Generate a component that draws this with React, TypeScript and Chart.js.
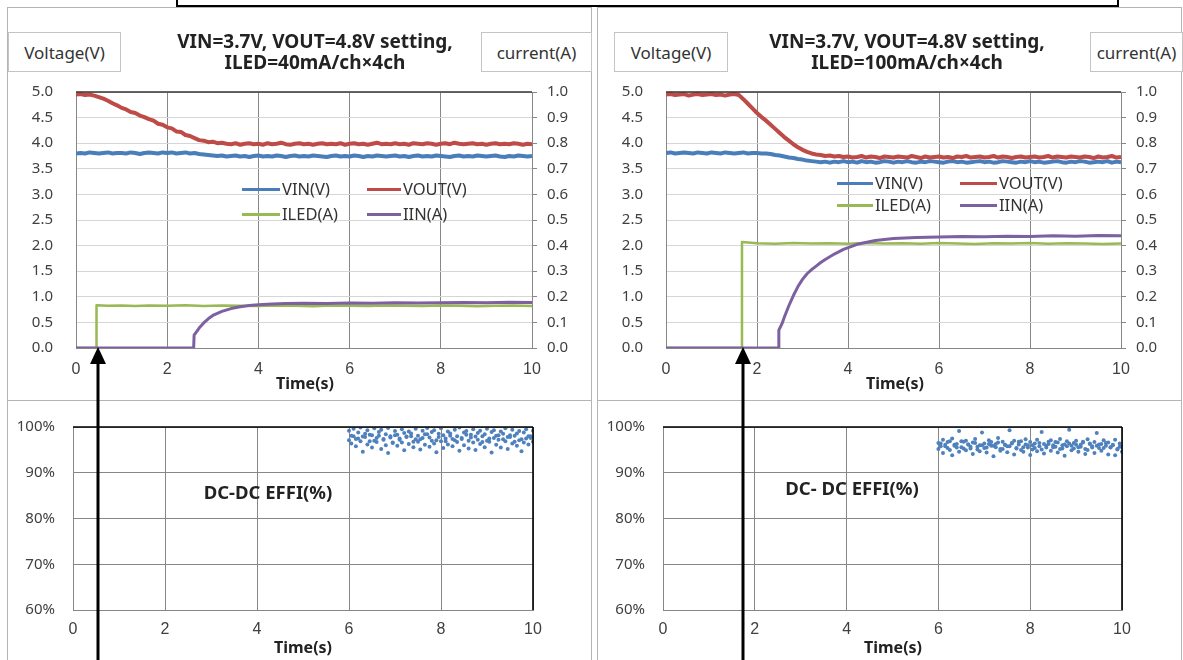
import React, { useEffect, useRef } from "react";
import { Chart, registerables } from "chart.js";
Chart.register(...registerables);

// ---------- DATA ----------
const TIME = [
  0, 0.1, 0.2, 0.3, 0.4, 0.5, 0.6, 0.7, 0.8, 0.9,
  1, 1.1, 1.2, 1.3, 1.4, 1.5, 1.6, 1.7, 1.8, 1.9,
  2, 2.1, 2.2, 2.3, 2.4, 2.5, 2.6, 2.7, 2.8, 2.9,
  3, 3.1, 3.2, 3.3, 3.4, 3.5, 3.6, 3.7, 3.8, 3.9,
  4, 4.1, 4.2, 4.3, 4.4, 4.5, 4.6, 4.7, 4.8, 4.9,
  5, 5.1, 5.2, 5.3, 5.4, 5.5, 5.6, 5.7, 5.8, 5.9,
  6, 6.1, 6.2, 6.3, 6.4, 6.5, 6.6, 6.7, 6.8, 6.9,
  7, 7.1, 7.2, 7.3, 7.4, 7.5, 7.6, 7.7, 7.8, 7.9,
  8, 8.1, 8.2, 8.3, 8.4, 8.5, 8.6, 8.7, 8.8, 8.9,
  9, 9.1, 9.2, 9.3, 9.4, 9.5, 9.6, 9.7, 9.8, 9.9,
  10,
];

// Left chart (ILED = 40mA/ch x 4ch)
const VOUT_L = [
  4.95, 4.96, 4.94, 4.95, 4.93, 4.90, 4.87, 4.83, 4.78, 4.74,
  4.69, 4.66, 4.61, 4.59, 4.54, 4.51, 4.47, 4.44, 4.38, 4.36,
  4.31, 4.29, 4.23, 4.22, 4.16, 4.14, 4.10, 4.06, 4.05, 4.02,
  4.03, 4.00, 4.01, 3.99, 3.98, 4.00, 3.97, 3.99, 4.00, 3.98,
  3.99, 3.97, 4.00, 3.98, 3.99, 4.01, 3.98, 3.97, 3.99, 4.00,
  3.98, 3.99, 3.97, 3.99, 4.00, 3.98, 3.99, 3.98, 4.00, 3.97,
  3.99, 4.00, 3.98, 3.99, 3.97, 3.99, 4.01, 3.98, 3.99, 3.98,
  4.00, 3.98, 3.99, 3.97, 4.00, 3.99, 3.98, 4.00, 3.99, 3.97,
  3.99, 4.00, 3.98, 4.01, 3.99, 3.98, 3.99, 4.00, 3.98, 3.99,
  3.97, 3.99, 4.00, 3.98, 3.99, 3.98, 4.00, 3.99, 3.97, 3.99,
  3.98,
];
const VIN_L = [
  3.80, 3.81, 3.80, 3.82, 3.81, 3.80, 3.81, 3.82, 3.80, 3.81,
  3.81, 3.80, 3.82, 3.81, 3.79, 3.81, 3.82, 3.81, 3.80, 3.82,
  3.81, 3.82, 3.80, 3.81, 3.82, 3.80, 3.81, 3.79, 3.78, 3.77,
  3.76, 3.75, 3.76, 3.74, 3.75, 3.76, 3.74, 3.75, 3.73, 3.75,
  3.76, 3.74, 3.75, 3.74, 3.76, 3.75, 3.73, 3.75, 3.76, 3.74,
  3.75, 3.74, 3.76, 3.75, 3.74, 3.73, 3.75, 3.76, 3.74, 3.75,
  3.74, 3.76, 3.75, 3.73, 3.75, 3.74, 3.76, 3.75, 3.74, 3.75,
  3.76, 3.74, 3.75, 3.73, 3.75, 3.76, 3.74, 3.75, 3.74, 3.76,
  3.75, 3.74, 3.73, 3.75, 3.76, 3.74, 3.75, 3.74, 3.76, 3.75,
  3.74, 3.75, 3.76, 3.74, 3.73, 3.75, 3.74, 3.76, 3.75, 3.74,
  3.75,
];
const ILED_L_T = [0, 0.44, 0.45, 0.7, 1, 1.3, 1.6, 2, 2.4, 2.8, 3.2, 3.6, 4, 4.4, 4.8, 5.2, 5.6, 6, 6.4, 6.8, 7.2, 7.6, 8, 8.4, 8.8, 9.2, 9.6, 10];
const ILED_L = [0, 0, 0.167, 0.165, 0.166, 0.164, 0.166, 0.165, 0.167, 0.164, 0.166, 0.165, 0.164, 0.166, 0.165, 0.163, 0.166, 0.165, 0.164, 0.166, 0.165, 0.164, 0.166, 0.165, 0.163, 0.165, 0.166, 0.164];
const IIN_L_T = [0, 1, 2, 2.58, 2.59, 2.65, 2.7, 2.8, 2.9, 3, 3.2, 3.4, 3.6, 3.8, 4, 4.3, 4.6, 5, 5.5, 6, 6.5, 7, 7.5, 8, 8.5, 9, 9.5, 10];
const IIN_L = [0, 0, 0, 0, 0.05, 0.065, 0.078, 0.098, 0.114, 0.127, 0.143, 0.154, 0.161, 0.166, 0.169, 0.172, 0.174, 0.175, 0.174, 0.176, 0.175, 0.177, 0.176, 0.177, 0.178, 0.177, 0.179, 0.178];

// Right chart (ILED = 100mA/ch x 4ch)
const VOUT_R = [
  4.95, 4.96, 4.94, 4.95, 4.96, 4.93, 4.95, 4.96, 4.94, 4.95,
  4.96, 4.94, 4.95, 4.93, 4.95, 4.96, 4.94, 4.86, 4.77, 4.68,
  4.59, 4.51, 4.44, 4.36, 4.28, 4.20, 4.12, 4.05, 3.98, 3.92,
  3.87, 3.83, 3.80, 3.78, 3.77, 3.75, 3.76, 3.74, 3.75, 3.73,
  3.74, 3.72, 3.73, 3.75, 3.72, 3.74, 3.73, 3.71, 3.74, 3.73,
  3.72, 3.74, 3.73, 3.72, 3.75, 3.73, 3.71, 3.74, 3.72, 3.73,
  3.74, 3.72, 3.73, 3.71, 3.74, 3.73, 3.75, 3.72, 3.73, 3.74,
  3.72, 3.73, 3.75, 3.72, 3.74, 3.73, 3.71, 3.73, 3.74, 3.72,
  3.73, 3.74, 3.72, 3.73, 3.75, 3.72, 3.74, 3.73, 3.72, 3.74,
  3.73, 3.72, 3.74, 3.73, 3.71, 3.74, 3.72, 3.73, 3.75, 3.72,
  3.73,
];
const VIN_R = [
  3.81, 3.82, 3.80, 3.81, 3.82, 3.81, 3.80, 3.82, 3.81, 3.80,
  3.82, 3.81, 3.80, 3.82, 3.81, 3.80, 3.81, 3.82, 3.80, 3.81,
  3.81, 3.80, 3.80, 3.79, 3.77, 3.76, 3.74, 3.72, 3.71, 3.69,
  3.68, 3.66, 3.65, 3.64, 3.63, 3.64, 3.62, 3.64, 3.63, 3.65,
  3.63, 3.64, 3.62, 3.65, 3.63, 3.64, 3.62, 3.63, 3.65, 3.64,
  3.62, 3.64, 3.63, 3.65, 3.63, 3.62, 3.64, 3.63, 3.65, 3.64,
  3.63, 3.62, 3.64, 3.65, 3.63, 3.64, 3.62, 3.63, 3.64, 3.65,
  3.63, 3.64, 3.62, 3.63, 3.65, 3.64, 3.63, 3.62, 3.64, 3.63,
  3.65, 3.63, 3.64, 3.62, 3.63, 3.64, 3.65, 3.63, 3.62, 3.64,
  3.63, 3.65, 3.64, 3.62, 3.63, 3.64, 3.63, 3.65, 3.62, 3.64,
  3.63,
];
const ILED_R_T = [0, 1.66, 1.67, 2, 2.4, 2.8, 3.2, 3.6, 4, 4.4, 4.8, 5.2, 5.6, 6, 6.4, 6.8, 7.2, 7.6, 8, 8.4, 8.8, 9.2, 9.6, 10];
const ILED_R = [0, 0, 0.414, 0.409, 0.407, 0.41, 0.408, 0.409, 0.407, 0.41, 0.408, 0.409, 0.407, 0.41, 0.408, 0.406, 0.409, 0.408, 0.41, 0.407, 0.409, 0.408, 0.406, 0.408];
const IIN_R_T = [0, 1, 2, 2.47, 2.48, 2.55, 2.6, 2.7, 2.8, 2.9, 3, 3.1, 3.2, 3.3, 3.4, 3.5, 3.7, 3.9, 4.2, 4.6, 5, 5.5, 6, 6.5, 7, 7.5, 8, 8.5, 9, 9.5, 10];
const IIN_R = [0, 0, 0, 0, 0.07, 0.095, 0.12, 0.165, 0.205, 0.24, 0.268, 0.29, 0.306, 0.32, 0.334, 0.346, 0.367, 0.385, 0.405, 0.42, 0.428, 0.432, 0.434, 0.436, 0.435, 0.437, 0.436, 0.438, 0.437, 0.439, 0.438];

// Efficiency scatter (time 6..10 s)
const EFF_T = [
  6, 6.05, 6.1, 6.15, 6.2, 6.25, 6.3, 6.35, 6.4, 6.45,
  6.5, 6.55, 6.6, 6.65, 6.7, 6.75, 6.8, 6.85, 6.9, 6.95,
  7, 7.05, 7.1, 7.15, 7.2, 7.25, 7.3, 7.35, 7.4, 7.45,
  7.5, 7.55, 7.6, 7.65, 7.7, 7.75, 7.8, 7.85, 7.9, 7.95,
  8, 8.05, 8.1, 8.15, 8.2, 8.25, 8.3, 8.35, 8.4, 8.45,
  8.5, 8.55, 8.6, 8.65, 8.7, 8.75, 8.8, 8.85, 8.9, 8.95,
  9, 9.05, 9.1, 9.15, 9.2, 9.25, 9.3, 9.35, 9.4, 9.45,
  9.5, 9.55, 9.6, 9.65, 9.7, 9.75, 9.8, 9.85, 9.9, 9.95,
  10,
];
const EFF_L_A = [
  99.2, 98.1, 99.6, 97.4, 98.8, 99.9, 97.9, 98.5, 99.3, 96.9,
  98.2, 99.7, 97.6, 98.9, 99.4, 97.2, 98.4, 99.8, 98.0, 96.6,
  99.1, 98.3, 97.5, 99.5, 98.7, 97.8, 99.0, 98.6, 96.8, 99.6,
  98.1, 97.3, 99.2, 98.4, 99.8, 97.7, 98.9, 99.3, 97.1, 98.5,
  99.7, 98.2, 96.9, 99.0, 98.6, 97.4, 99.4, 98.0, 99.9, 97.6,
  98.8, 99.1, 97.0, 98.3, 99.5, 97.9, 98.7, 99.2, 96.7, 98.4,
  99.6, 97.5, 98.9, 99.3, 98.1, 97.2, 99.0, 98.5, 99.7, 97.8,
  98.2, 99.4, 96.8, 98.6, 99.1, 97.3, 98.8, 99.5, 98.0, 97.6,
  99.2,
];
const EFF_L_B = [
  97.1, 96.4, 98.0, 95.8, 97.5, 96.9, 94.6, 97.8, 96.2, 98.3,
  95.5, 97.0, 96.7, 98.1, 95.2, 97.4, 96.0, 94.3, 97.7, 96.5,
  98.2, 95.9, 97.2, 96.6, 94.9, 97.9, 96.3, 98.0, 95.6, 97.3,
  96.8, 95.1, 97.6, 96.1, 98.4, 95.7, 97.0, 96.4, 94.5, 97.8,
  96.9, 95.4, 97.5, 96.2, 98.1, 95.8, 97.1, 96.7, 94.8, 97.4,
  96.0, 98.3, 95.3, 97.7, 96.6, 95.0, 97.2, 96.3, 98.0, 95.6,
  97.0, 96.8, 94.4, 97.6, 96.1, 98.2, 95.5, 97.3, 96.9, 95.2,
  97.8, 96.4, 98.1, 95.9, 97.1, 94.7, 96.6, 97.5, 96.2, 98.0,
  96.8,
];
const EFF_R_A = [
  96.5, 95.8, 97.2, 96.1, 95.4, 96.9, 97.5, 95.9, 96.3, 99.1,
  95.6, 96.8, 97.0, 96.2, 95.3, 96.6, 97.4, 95.7, 96.0, 98.8,
  96.4, 95.5, 97.1, 96.7, 95.9, 96.3, 97.6, 95.2, 96.8, 96.1,
  95.8, 99.3, 96.5, 97.0, 95.4, 96.2, 96.9, 95.6, 97.3, 96.0,
  96.7, 95.1, 96.4, 97.2, 95.8, 98.9, 96.3, 95.5, 96.8, 97.1,
  96.0, 95.7, 96.6, 97.4, 95.3, 96.2, 96.9, 99.4, 95.9, 96.5,
  97.0, 95.6, 96.1, 96.8, 95.2, 97.3, 96.4, 95.8, 96.7, 98.7,
  95.4, 96.3, 97.1, 95.9, 96.6, 95.5, 96.0, 97.2, 95.1, 96.4,
  95.7,
];
const EFF_R_B = [
  95.2, 96.4, 94.3, 95.8, 96.7, 95.0, 93.8, 96.1, 95.5, 94.6,
  96.9, 95.3, 94.9, 96.2, 95.7, 94.1, 96.5, 95.1, 94.7, 96.0,
  95.4, 94.4, 96.3, 95.9, 93.6, 95.6, 96.6, 94.8, 95.2, 96.1,
  94.5, 95.8, 96.4, 94.0, 95.3, 96.8, 95.0, 94.6, 96.2, 95.5,
  93.9, 96.0, 95.4, 94.7, 96.5, 95.1, 94.2, 95.9, 96.3, 94.8,
  95.6, 96.7, 94.4, 95.2, 96.0, 93.7, 95.8, 96.4, 94.9, 95.3,
  96.1, 94.6, 95.7, 96.6, 94.1, 95.0, 96.3, 95.5, 94.3, 95.9,
  96.2, 94.8, 95.4, 96.5, 94.0, 95.6, 96.1, 93.8, 95.2, 95.7,
  94.6,
];

// Tick labels
const X_TICKS = [0, 2, 4, 6, 8, 10];
const V_TICKS = [0, 0.5, 1, 1.5, 2, 2.5, 3, 3.5, 4, 4.5, 5];
const A_TICKS = [0, 0.1, 0.2, 0.3, 0.4, 0.5, 0.6, 0.7, 0.8, 0.9, 1];
const EFF_TICKS = [60, 70, 80, 90, 100];

const SERIES_NAMES = ["VIN(V)", "VOUT(V)", "ILED(A)", "IIN(A)"];
const TITLE_L = ["VIN=3.7V, VOUT=4.8V setting,", "ILED=40mA/ch×4ch"];
const TITLE_R = ["VIN=3.7V, VOUT=4.8V setting,", "ILED=100mA/ch×4ch"];
const EFF_TITLE_L = "DC-DC EFFI(%)";
const EFF_TITLE_R = "DC- DC EFFI(%)";

// ---------- STYLE ----------
const C_VIN = "#4A7EBB";
const C_VOUT = "#BE4B48";
const C_ILED = "#98B954";
const C_IIN = "#7D60A0";
const C_EFF = "#4F81BD";
const GRID_DARK = "#878787";
const GRID_LIGHT = "#d6d6d6";
const TICK_COLOR = "#404040";
const SANS = "'Noto Sans', 'DejaVu Sans', sans-serif";

const framePlugin = {
  id: "plotFrame",
  afterDraw(chart: any, _args: any, opts: any) {
    const { ctx, chartArea: a } = chart;
    ctx.save();
    ctx.lineWidth = opts.width || 1.5;
    if (opts.top) {
      ctx.strokeStyle = opts.top;
      ctx.beginPath();
      ctx.moveTo(a.left, a.top);
      ctx.lineTo(a.right, a.top);
      ctx.stroke();
    }
    if (opts.right) {
      ctx.strokeStyle = opts.right;
      ctx.beginPath();
      ctx.moveTo(a.right, a.top);
      ctx.lineTo(a.right, a.bottom);
      ctx.stroke();
    }
    ctx.restore();
  },
};

const pts = (xs: number[], ys: number[]) => xs.map((x, i) => ({ x, y: ys[i] }));
const fixTicks = (vals: number[]) => (s: any) => {
  s.ticks = vals.map((v) => ({ value: v }));
};

function xScale(height: number, pad: number) {
  return {
    type: "linear",
    min: 0,
    max: 10,
    afterBuildTicks: fixTicks(X_TICKS),
    afterFit: (s: any) => {
      s.height = height;
    },
    grid: { color: GRID_DARK, drawTicks: false },
    border: { color: GRID_DARK },
    ticks: { padding: pad, color: TICK_COLOR, font: { family: "'Liberation Sans', Arial", size: 16 } },
  };
}

function topConfig(vin: number[], vout: number[], iledT: number[], iled: number[], iinT: number[], iin: number[], rightW: number): any {
  return {
    type: "line",
    data: {
      datasets: [
        { label: SERIES_NAMES[0], data: pts(TIME, vin), yAxisID: "yV", borderColor: C_VIN, borderWidth: 4, order: 4 },
        { label: SERIES_NAMES[1], data: pts(TIME, vout), yAxisID: "yV", borderColor: C_VOUT, borderWidth: 4, order: 3 },
        { label: SERIES_NAMES[2], data: pts(iledT, iled), yAxisID: "yA", borderColor: C_ILED, borderWidth: 2.5, order: 2 },
        { label: SERIES_NAMES[3], data: pts(iinT, iin), yAxisID: "yA", borderColor: C_IIN, borderWidth: 3, order: 1 },
      ],
    },
    options: {
      responsive: false,
      animation: false,
      devicePixelRatio: 1,
      events: [],
      layout: { padding: { top: 19, left: 0, right: 0, bottom: 0 } },
      elements: { point: { radius: 0 }, line: { tension: 0, borderJoinStyle: "round", fill: false } },
      plugins: {
        legend: { display: false },
        tooltip: { enabled: false },
        plotFrame: { top: "#333333", width: 1.5 },
      },
      scales: {
        x: xScale(52, 12),
        yV: {
          position: "left",
          min: 0,
          max: 5,
          afterBuildTicks: fixTicks(V_TICKS),
          afterFit: (s: any) => {
            s.width = 76;
          },
          grid: { color: GRID_LIGHT, drawTicks: false },
          border: { color: GRID_DARK },
          ticks: { padding: 23, color: TICK_COLOR, font: { family: SANS, size: 15 }, callback: (v: any) => Number(v).toFixed(1) },
        },
        yA: {
          position: "right",
          min: 0,
          max: 1,
          afterBuildTicks: fixTicks(A_TICKS),
          afterFit: (s: any) => {
            s.width = rightW;
          },
          grid: { drawOnChartArea: false, color: GRID_DARK, tickLength: 5 },
          border: { color: GRID_DARK },
          ticks: { padding: 10, color: TICK_COLOR, font: { family: SANS, size: 15 }, callback: (v: any) => Number(v).toFixed(1) },
        },
      },
    },
    plugins: [framePlugin],
  };
}

function bottomConfig(effA: number[], effB: number[], rightPad: number): any {
  return {
    type: "scatter",
    data: {
      datasets: [
        { label: "EFF", data: pts(EFF_T, effA), backgroundColor: C_EFF, borderWidth: 0, pointRadius: 2 },
        { label: "EFF2", data: pts(EFF_T, effB), backgroundColor: C_EFF, borderWidth: 0, pointRadius: 2 },
      ],
    },
    options: {
      responsive: false,
      animation: false,
      devicePixelRatio: 1,
      events: [],
      layout: { padding: { top: 16, left: 0, right: rightPad, bottom: 0 } },
      plugins: {
        legend: { display: false },
        tooltip: { enabled: false },
        plotFrame: { top: "#000000", right: "#000000", width: 1.6 },
      },
      scales: {
        x: xScale(50, 10),
        y: {
          position: "left",
          min: 60,
          max: 100,
          afterBuildTicks: fixTicks(EFF_TICKS),
          afterFit: (s: any) => {
            s.width = 73;
          },
          grid: { color: GRID_DARK, drawTicks: false },
          border: { color: GRID_DARK },
          ticks: { padding: 18, color: TICK_COLOR, font: { family: SANS, size: 15 }, callback: (v: any) => v + "%" },
        },
      },
    },
    plugins: [framePlugin],
  };
}

function ChartCanvas(props: { left: number; top: number; width: number; height: number; make: () => any }) {
  const ref = useRef<HTMLCanvasElement>(null);
  useEffect(() => {
    const chart = new Chart(ref.current as HTMLCanvasElement, props.make());
    return () => chart.destroy();
  }, []);
  return (
    <canvas
      ref={ref}
      width={props.width}
      height={props.height}
      style={{ position: "absolute", left: props.left, top: props.top, width: props.width, height: props.height }}
    />
  );
}

function Box(props: { left: number; width: number; text: string }) {
  return (
    <div
      style={{
        position: "absolute",
        left: props.left,
        top: 32,
        width: props.width,
        height: 40,
        border: "1px solid #c4c4c4",
        background: "#fff",
        boxSizing: "border-box",
        display: "flex",
        alignItems: "center",
        justifyContent: "center",
        fontSize: 17,
        color: "#333",
        fontFamily: SANS,
      }}
    >
      {props.text}
    </div>
  );
}

function Text(props: { cx: number; cy: number; text: string; size: number; bold?: boolean }) {
  return (
    <div
      style={{
        position: "absolute",
        left: props.cx - 200,
        top: props.cy - 15,
        width: 400,
        height: 30,
        lineHeight: "30px",
        textAlign: "center",
        fontSize: props.size,
        fontWeight: props.bold ? 700 : 400,
        color: "#222",
        fontFamily: SANS,
        whiteSpace: "nowrap",
      }}
    >
      {props.text}
    </div>
  );
}

function LegendItem(props: { x1: number; x2: number; y: number; color: string; text: string }) {
  return (
    <>
      <div style={{ position: "absolute", left: props.x1, top: props.y - 1.5, width: props.x2 - props.x1, height: 3, background: props.color }} />
      <div
        style={{
          position: "absolute",
          left: props.x2 + 2,
          top: props.y - 12,
          height: 24,
          lineHeight: "24px",
          fontSize: 16.5,
          color: "#333",
          fontFamily: SANS,
          whiteSpace: "nowrap",
        }}
      >
        {props.text}
      </div>
    </>
  );
}

function Arrow(props: { x: number }) {
  const x = props.x;
  return (
    <>
      <line x1={x} y1={360} x2={x} y2={662} stroke="#000" strokeWidth={3} />
      <polygon points={`${x},347 ${x - 8},364 ${x + 8},364`} fill="#000" />
    </>
  );
}

export default function App() {
  const panelLine = "1px solid #b4b4b4";
  return (
    <div
      style={{
        position: "absolute",
        left: 0,
        top: 0,
        width: 1183,
        height: 660,
        overflow: "hidden",
        background: "#fff",
        fontFamily: SANS,
      }}
    >
      {/* panels */}
      <div style={{ position: "absolute", left: 7, top: 7, width: 585, height: 670, border: panelLine, boxSizing: "border-box" }} />
      <div style={{ position: "absolute", left: 597, top: 7, width: 585, height: 670, border: panelLine, boxSizing: "border-box" }} />
      <div style={{ position: "absolute", left: 7, top: 400, width: 585, height: 0, borderTop: panelLine }} />
      <div style={{ position: "absolute", left: 597, top: 400, width: 585, height: 0, borderTop: panelLine }} />

      {/* charts */}
      <ChartCanvas left={0} top={60} width={600} height={340} make={() => topConfig(VIN_L, VOUT_L, ILED_L_T, ILED_L, IIN_L_T, IIN_L, 68)} />
      <ChartCanvas left={590} top={60} width={593} height={340} make={() => topConfig(VIN_R, VOUT_R, ILED_R_T, ILED_R, IIN_R_T, IIN_R, 62)} />
      <ChartCanvas left={0} top={400} width={600} height={260} make={() => bottomConfig(EFF_L_A, EFF_L_B, 67)} />
      <ChartCanvas left={590} top={400} width={593} height={260} make={() => bottomConfig(EFF_R_A, EFF_R_B, 61)} />

      {/* top black box */}
      <div style={{ position: "absolute", left: 176, top: -6, width: 943, height: 13, border: "2px solid #000", background: "#fff", boxSizing: "border-box" }} />

      {/* axis title boxes */}
      <Box left={8} width={113} text="Voltage(V)" />
      <Box left={481} width={111} text="current(A)" />
      <Box left={614} width={114} text="Voltage(V)" />
      <Box left={1090} width={93} text="current(A)" />

      {/* titles */}
      <Text cx={315} cy={41} text={TITLE_L[0]} size={19} bold />
      <Text cx={315} cy={62} text={TITLE_L[1]} size={19} bold />
      <Text cx={907} cy={41} text={TITLE_R[0]} size={19} bold />
      <Text cx={907} cy={62} text={TITLE_R[1]} size={19} bold />

      {/* legends */}
      <LegendItem x1={242} x2={280} y={189} color={C_VIN} text={SERIES_NAMES[0]} />
      <LegendItem x1={367} x2={401} y={189} color={C_VOUT} text={SERIES_NAMES[1]} />
      <LegendItem x1={242} x2={280} y={214} color={C_ILED} text={SERIES_NAMES[2]} />
      <LegendItem x1={367} x2={401} y={214} color={C_IIN} text={SERIES_NAMES[3]} />
      <LegendItem x1={837} x2={873} y={183} color={C_VIN} text={SERIES_NAMES[0]} />
      <LegendItem x1={960} x2={997} y={183} color={C_VOUT} text={SERIES_NAMES[1]} />
      <LegendItem x1={837} x2={873} y={205} color={C_ILED} text={SERIES_NAMES[2]} />
      <LegendItem x1={960} x2={997} y={205} color={C_IIN} text={SERIES_NAMES[3]} />

      {/* axis titles */}
      <Text cx={305} cy={383} text="Time(s)" size={16} bold />
      <Text cx={895} cy={383} text="Time(s)" size={16} bold />
      <Text cx={303} cy={647} text="Time(s)" size={16} bold />
      <Text cx={893} cy={647} text="Time(s)" size={16} bold />
      <Text cx={268} cy={492} text={EFF_TITLE_L} size={18.5} bold />
      <Text cx={852} cy={488} text={EFF_TITLE_R} size={18.5} bold />

      {/* arrows */}
      <svg width={1183} height={660} style={{ position: "absolute", left: 0, top: 0, pointerEvents: "none" }}>
        <Arrow x={98} />
        <Arrow x={743} />
      </svg>
    </div>
  );
}
